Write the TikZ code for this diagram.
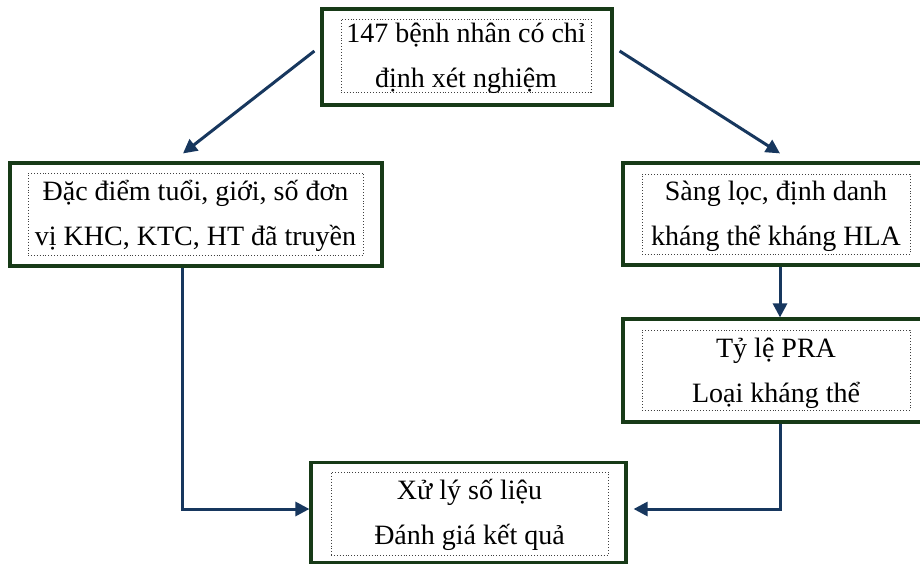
\documentclass[tikz,border=0pt]{standalone}
\usepackage{fontspec}
\setmainfont{Liberation Serif}
\usetikzlibrary{arrows.meta}
\definecolor{boxgreen}{HTML}{173A17}
\definecolor{arrnavy}{HTML}{17375E}
\begin{document}
\begin{tikzpicture}[x=1pt,y=-1pt,
  outerbox/.style={draw=boxgreen, line width=3.2pt, fill=white, inner sep=0pt},
  innerbox/.style={draw=black!75, dotted, line width=0.9pt, inner sep=0pt},
  txt/.style={inner sep=0pt, align=center, font=\fontsize{28}{45}\selectfont},
  conn/.style={draw=arrnavy, line width=3pt, -{Triangle[length=14pt,width=14pt]}}]
\useasboundingbox (0,0) rectangle (920,565);
\fill[white] (0,0) rectangle (920,565);
% boxes
\node[outerbox, minimum width=290pt, minimum height=96pt] (top) at (467,57) {};
\node[innerbox, minimum width=250pt, minimum height=73pt] (topin) at (466,55.5) {};
\node[txt] (toptxt) at (466,58.5) {147 bệnh nhân có chỉ\\định xét nghiệm};
\node[outerbox, minimum width=372pt, minimum height=103pt] (lbox) at (196,214.5) {};
\node[innerbox, minimum width=335pt, minimum height=82pt] (lboxin) at (195.5,214) {};
\node[txt] (lboxtxt) at (195.5,216) {Đặc điểm tuổi, giới, số đơn\\vị KHC, KTC, HT đã truyền};
\node[outerbox, minimum width=302pt, minimum height=102pt] (rb1) at (774,214) {};
\node[innerbox, minimum width=268pt, minimum height=80pt] (rb1in) at (776,214) {};
\node[txt] (rb1txt) at (776,216) {Sàng lọc, định danh\\kháng thể kháng HLA};
\node[outerbox, minimum width=302pt, minimum height=103pt] (rb2) at (774,370.5) {};
\node[innerbox, minimum width=268pt, minimum height=80pt] (rb2in) at (776,370) {};
\node[txt] (rb2txt) at (776,373) {Tỷ lệ PRA\\Loại kháng thể};
\node[outerbox, minimum width=315pt, minimum height=100pt] (bot) at (468.5,512.5) {};
\node[innerbox, minimum width=277pt, minimum height=83pt] (botin) at (469.5,513.5) {};
\node[txt] (bottxt) at (469.5,515) {Xử lý số liệu\\Đánh giá kết quả};
% connectors
\draw[conn] ([shift={(-6,-6)}]top.west) -- ([shift={(-13,-8)}]lbox.north);
\draw[conn] ([shift={(6,-6)}]top.east) -- ([shift={(6,-8)}]rb1.north);
\draw[conn] ([xshift=6]rb1.south) -- ([xshift=6]rb2.north);
\draw[conn] ([xshift=-14]lbox.south) |- ([shift={(0,-3.5)}]bot.west);
\draw[conn] ([xshift=6]rb2.south) |- ([shift={(6,-3.5)}]bot.east);
\end{tikzpicture}
\end{document}
